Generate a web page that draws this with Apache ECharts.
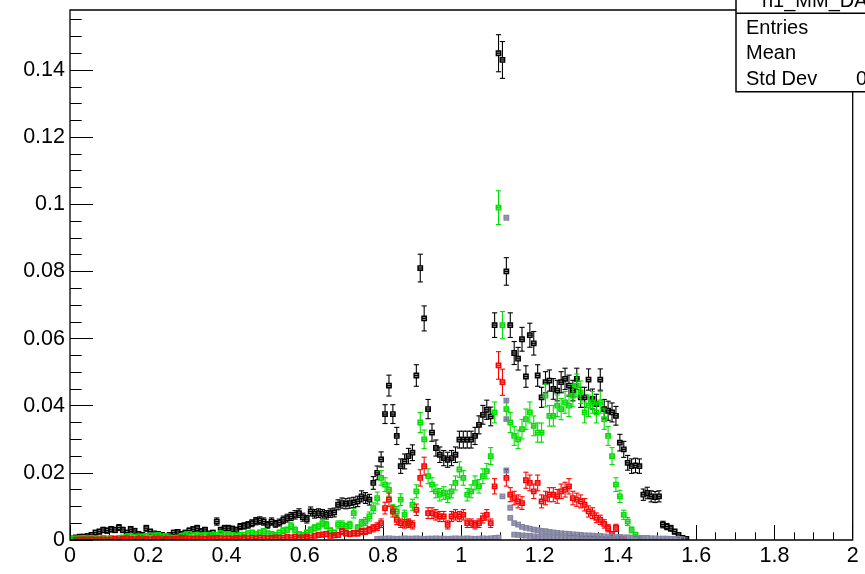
<!DOCTYPE html>
<html>
<head>
<meta charset="utf-8">
<script src="https://cdn.jsdelivr.net/npm/echarts@6/dist/echarts.min.js"></script>
<style>
html,body{margin:0;padding:0;background:#fff;}
#chart{width:865px;height:574px;}
</style>
</head>
<body>
<div id="chart"></div>
<script>
// ---------- data (bin width 0.01) ----------
const BIN_W = 0.01;
const xTickLabels = ['0','0.2','0.4','0.6','0.8','1','1.2','1.4','1.6','1.8','2'];
const yTickLabels = ['0','0.02','0.04','0.06','0.08','0.1','0.12','0.14'];

const blackStart = 0;
const blackVals = [
 0.0005,0.0008,0.001,0.001,0.0012,0.0015,0.0022,0.0025,0.003,0.0028,
 0.0032,0.003,0.0037,0.003,0.0022,0.0032,0.0027,0.0018,0.0015,0.0035,
 0.0025,0.002,0.0018,0.0015,0.0012,0.0015,0.0022,0.0024,0.0018,0.0022,
 0.0028,0.0032,0.0035,0.0026,0.003,0.002,0.0022,0.0055,0.003,0.0035,
 0.0035,0.0033,0.003,0.004,0.0042,0.0045,0.005,0.0056,0.0058,0.0055,
 0.0045,0.0055,0.0048,0.0052,0.006,0.0065,0.007,0.0075,0.008,0.0068,
 0.0062,0.0085,0.0078,0.008,0.0078,0.0075,0.008,0.0082,0.0105,0.011,
 0.0108,0.011,0.0112,0.0115,0.013,0.0125,0.012,0.017,0.020,0.024,
 0.0375,0.046,0.0375,0.031,0.022,0.0234,0.025,0.026,0.049,0.081,
 0.066,0.039,0.032,0.0274,0.0254,0.0244,0.0239,0.0244,0.0254,0.0299,
 0.0299,0.0299,0.0299,0.031,0.0343,0.0373,0.0388,0.0368,0.064,0.145,
 0.143,0.080,0.064,0.0557,0.054,0.0598,0.0487,0.061,0.0586,0.049,
 0.0425,0.047,0.0475,0.045,0.0445,0.047,0.048,0.046,0.0445,0.048,
 0.0425,0.0425,0.0478,0.042,0.0405,0.0478,0.039,0.0385,0.038,0.037,
 0.029,0.027,0.023,0.022,0.0222,0.022,0.0135,0.014,0.013,0.0128,
 0.013,0.0046,0.004,0.0035,0.0025,0.0015,0.0006,0.0003
];

const greenStart = 0;
const greenVals = [
 0.0004,0.0005,0.0005,0.0006,0.0005,0.0006,0.0005,0.0005,0.0006,0.0005,
 0.0006,0.0005,0.0006,0.0008,0.001,0.0012,0.001,0.0011,0.001,0.0012,
 0.0014,0.0012,0.0015,0.001,0.0012,0.0008,0.0006,0.0008,0.0012,0.0015,
 0.0018,0.0014,0.0016,0.0012,0.0015,0.0014,0.0016,0.0015,0.002,0.0018,
 0.0018,0.0015,0.0014,0.0016,0.0016,0.002,0.0022,0.0018,0.0022,0.0026,
 0.002,0.0018,0.0015,0.0022,0.0028,0.003,0.0041,0.003,0.0018,0.0015,
 0.0022,0.003,0.0036,0.004,0.005,0.0045,0.0028,0.0022,0.0046,0.0046,
 0.004,0.0045,0.008,0.0036,0.005,0.0055,0.007,0.0095,0.0125,0.0185,
 0.0165,0.015,0.009,0.0085,0.012,0.0075,0.005,0.0105,0.0145,0.035,
 0.030,0.019,0.0165,0.0145,0.0135,0.014,0.013,0.0145,0.017,0.021,
 0.0185,0.0135,0.0145,0.017,0.016,0.019,0.0205,0.025,0.038,0.099,
 0.064,0.039,0.035,0.031,0.030,0.033,0.036,0.038,0.034,0.032,
 0.032,0.043,0.037,0.037,0.040,0.039,0.041,0.040,0.043,0.046,
 0.044,0.038,0.040,0.041,0.038,0.041,0.036,0.031,0.025,0.0165,
 0.013,0.0075,0.0055,0.003,0.0016,0.0006
];

const redStart = 0;
const redVals = [
 0,0.0001,0.0001,0.0002,0.0001,0.0002,0.0001,0.0002,0.0002,0.0001,
 0.0002,0.0003,0.0002,0.0004,0.0005,0.0003,0.0002,0.0003,0.0002,0.0003,
 0.0002,0.0003,0.0004,0.0002,0.0003,0.0002,0.0003,0.0004,0.0006,0.0005,
 0.0004,0.0003,0.0005,0.0004,0.0003,0.0005,0.0004,0.0006,0.0005,0.0004,
 0.0005,0.0004,0.0006,0.0005,0.0007,0.0005,0.0006,0.0005,0.0007,0.0006,
 0.0005,0.0006,0.0008,0.0006,0.0007,0.0009,0.0008,0.001,0.0007,0.0008,
 0.001,0.0008,0.0012,0.0015,0.0016,0.0018,0.0012,0.0014,0.0015,0.0025,
 0.002,0.0018,0.002,0.002,0.0025,0.0026,0.003,0.0035,0.004,0.005,
 0.0095,0.012,0.0085,0.006,0.005,0.0048,0.005,0.0045,0.009,0.0185,
 0.022,0.008,0.008,0.0075,0.007,0.007,0.0045,0.007,0.0075,0.007,
 0.0075,0.005,0.005,0.0045,0.005,0.0065,0.0075,0.005,0.016,0.052,
 0.047,0.0185,0.0135,0.0125,0.0115,0.011,0.0178,0.017,0.0145,0.017,
 0.0115,0.0125,0.0135,0.0135,0.013,0.0145,0.015,0.016,0.0125,0.012,
 0.0115,0.0105,0.0085,0.008,0.0066,0.006,0.0048,0.0035,0.0018,0.0036,
 0.0004,0.0002
];

// grey (several small overlaid histograms)
const greyBaseStart = 78;
const greyBaseVals = [
 0.0003,0.0004,0.0004,0.0005,0.0004,0.0003,0.0004,0.0005,0.0004,0.0004,
 0.0005,0.0004,0.0003,0.0004,0.0004,0.0005,0.0004,0.0004,0.0003,0.0004,
 0.0005,0.0004,0.0004,0.0005,0.0004,0.0003,0.0004,0.0005,0.0004,0.0005,
 0.0006,0.0007
];
const greyPeakBins = [110,111,111,111,111,112,112];
const greyPeakVals = [0.013,0.096,0.0415,0.036,0.0207,0.0096,0.0066];
const greyUpperStart = 113;
const greyUpperVals = [
 0.005,0.0046,0.0039,0.0036,0.0034,0.0031,0.0029,0.0027,0.0026,0.0024,
 0.0023,0.0021,0.002,0.0019,0.0018,0.0017,0.0016,0.0015,0.0014,0.0014,
 0.0013,0.0012,0.0012,0.0011,0.001,0.001,0.0009,0.0009,0.0008,0.0008,
 0.0007,0.0007,0.0006,0.0006,0.0006,0.0005,0.0005,0.0004,0.0004,0.0004,
 0.0003,0.0003,0.0003,0.0002
];
const greyLowerStart = 113;
const greyLowerVals = [
 0.0016,0.0015,0.0014,0.0013,0.0012,0.0011,0.001,0.001,0.0009,0.0009,
 0.0008,0.0008,0.0007,0.0007,0.0006,0.0006,0.0005,0.0005,0.0005,0.0004,
 0.0004,0.0004,0.0003,0.0003,0.0003,0.0003,0.0002,0.0002
];

// per-series statistical error scale (error = scale * sqrt(content))
const errScaleBlack = 0.0145, errScaleGreen = 0.016, errScaleRed = 0.018, errScaleGrey = 0.0018;

const statsTitle = 'h1_MM_DATA';
const statsLabels = ['Entries','Mean','Std Dev'];

// ---------- build ----------
function center(bin){ return +(BIN_W*bin + BIN_W/2).toFixed(4); }
function fromRun(start, vals, k){
  const out = [];
  vals.forEach((v,i)=>{ if (v>0) out.push([center(start+i), v, k*Math.sqrt(v)]); });
  return out;
}
function fromPairs(bins, vals, k){
  return bins.map((b,i)=>[center(b), vals[i], k*Math.sqrt(vals[i])]);
}

function makeRender(color, fillColor){
  return function(params, api){
    const x = api.value(0), y = api.value(1), e = api.value(2);
    const p = api.coord([x, y]);
    const pt = api.coord([x, y + e]);
    const pb = api.coord([x, y - e]);
    const pl = api.coord([x - BIN_W/2, y]);
    const pr = api.coord([x + BIN_W/2, y]);
    const m = 2.2, cap = 2.6;
    const st = {stroke: color, lineWidth: 1.1, fill: null};
    const L = (x1,y1,x2,y2)=>({type:'line', shape:{x1,y1,x2,y2}, style:st});
    const ch = [];
    if (pt[1] < p[1]-m){ ch.push(L(p[0],p[1]-m,p[0],pt[1])); ch.push(L(p[0]-cap,pt[1],p[0]+cap,pt[1])); }
    if (pb[1] > p[1]+m){ ch.push(L(p[0],p[1]+m,p[0],pb[1])); ch.push(L(p[0]-cap,pb[1],p[0]+cap,pb[1])); }
    ch.push({type:'rect', shape:{x:p[0]-m, y:p[1]-m, width:2*m, height:2*m}, style:{stroke:color, lineWidth:1.4, fill:fillColor}});
    ch.push(L(pl[0]-0.5,p[1],pr[0]+0.5,p[1]));
    return {type:'group', children: ch};
  };
}

const greyData = []
  .concat(fromRun(greyBaseStart, greyBaseVals, errScaleGrey))
  .concat(fromRun(greyLowerStart, greyLowerVals, errScaleGrey))
  .concat(fromRun(greyUpperStart, greyUpperVals, errScaleGrey))
  .concat(fromPairs(greyPeakBins, greyPeakVals, errScaleGrey));

const FONT = '"Liberation Sans", Arial, Helvetica, sans-serif';
const chart = echarts.init(document.getElementById('chart'), null, {renderer:'canvas'});

const X_LEFT = 70, X_RIGHT = 852.7, Y_ZERO = 540, Y_TOP_FRAME = 10;
const PX_PER_UNIT_Y = 3357;
const Y_MAX = 0.16;

chart.setOption({
  animation: false,
  backgroundColor: '#fff',
  grid: {left: X_LEFT, right: 865 - X_RIGHT, top: Y_ZERO - Y_MAX*PX_PER_UNIT_Y, bottom: 574 - Y_ZERO, containLabel: false},
  xAxis: {
    type: 'value', min: 0, max: 2, interval: 0.2,
    axisLine: {show: false},
    axisTick: {show: true, inside: true, length: 15, lineStyle: {color:'#000', width:1}},
    minorTick: {show: true, splitNumber: 4, length: 7.7, lineStyle: {color:'#000', width:1}},
    splitLine: {show: false},
    axisLabel: {color:'#000', fontFamily: FONT, fontSize: 21.5, margin: 5,
      formatter: v => xTickLabels[Math.round(v/0.2)] }
  },
  yAxis: {
    type: 'value', min: 0, max: Y_MAX, interval: 0.02,
    axisLine: {show: false},
    axisTick: {show: true, inside: true, length: 23, lineStyle: {color:'#000', width:1}},
    minorTick: {show: true, splitNumber: 4, length: 11.7, lineStyle: {color:'#000', width:1}},
    splitLine: {show: false},
    axisLabel: {color:'#000', fontFamily: FONT, fontSize: 21.5, margin: 5, showMaxLabel: false,
      formatter: v => { const i = Math.round(v/0.02); return i < yTickLabels.length ? yTickLabels[i] : ''; } }
  },
  series: [
    {type:'custom', name:'black', renderItem: makeRender('#000000','rgba(0,0,0,0.45)'), data: fromRun(blackStart, blackVals, errScaleBlack), encode:{x:0,y:1}, clip:true, z:2},
    {type:'custom', name:'green', renderItem: makeRender('#00e000','rgba(0,150,0,0.45)'), data: fromRun(greenStart, greenVals, errScaleGreen), encode:{x:0,y:1}, clip:true, z:3},
    {type:'custom', name:'red', renderItem: makeRender('#ff0000','rgba(160,0,0,0.45)'), data: fromRun(redStart, redVals, errScaleRed), encode:{x:0,y:1}, clip:true, z:4},
    {type:'custom', name:'grey', renderItem: makeRender('#8585a5','rgba(60,60,90,0.45)'), data: greyData, encode:{x:0,y:1}, clip:true, z:5}
  ],
  graphic: [
    {type:'rect', z:100, shape:{x:0, y:0, width:740, height:Y_TOP_FRAME-0.6}, style:{fill:'#fff'}},
    {type:'rect', z:101, shape:{x:X_LEFT, y:Y_TOP_FRAME, width:X_RIGHT-X_LEFT, height:Y_ZERO-Y_TOP_FRAME}, style:{fill:null, stroke:'#000', lineWidth:1.3}},
    {type:'rect', z:110, shape:{x:736, y:-20, width:200, height:111.7}, style:{fill:'#fff', stroke:'#000', lineWidth:1.5}},
    {type:'line', z:111, shape:{x1:736, y1:13.3, x2:865, y2:13.3}, style:{stroke:'#000', lineWidth:1.5}},
    {type:'text', z:112, x:762, y:1, style:{text: statsTitle, font:'20px '+FONT, fill:'#000', verticalAlign:'middle', align:'left'}},
    {type:'text', z:112, x:746, y:28, style:{text: statsLabels[0], font:'20px '+FONT, fill:'#000', verticalAlign:'middle'}},
    {type:'text', z:112, x:746, y:53, style:{text: statsLabels[1], font:'20px '+FONT, fill:'#000', verticalAlign:'middle'}},
    {type:'text', z:112, x:746, y:79.5, style:{text: statsLabels[2], font:'20px '+FONT, fill:'#000', verticalAlign:'middle'}},
    {type:'text', z:112, x:856, y:79.5, style:{text: '0.1391', font:'20px '+FONT, fill:'#000', verticalAlign:'middle'}}
  ]
});
</script>
</body>
</html>
